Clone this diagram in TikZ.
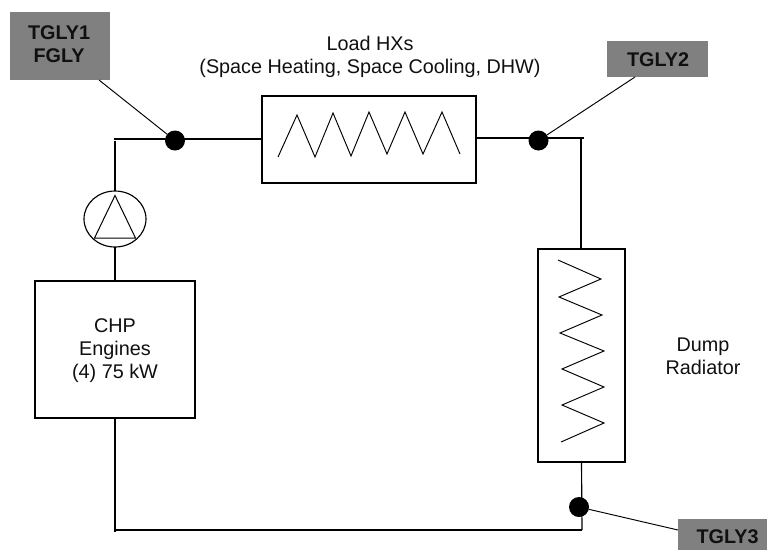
\documentclass[tikz,border=0pt]{standalone}
\usepackage{fontspec}
\setmainfont{Liberation Sans}
\usetikzlibrary{shapes.geometric}
\definecolor{tagfill}{HTML}{808080}
\definecolor{inkc}{HTML}{101010}
\tikzset{
  x=1pt,y=-1pt,
  every node/.style={inner sep=0pt,outer sep=0pt},
  txt/.style={font=\fontsize{19.8}{23}\selectfont,align=center,text=inkc},
  tag/.style={fill=tagfill,font=\fontsize{19.8}{23}\selectfont\bfseries,align=center,text=inkc},
  equip/.style={draw=black,line width=1.15pt,fill=white},
  pipe/.style={draw=black,line width=1.15pt},
  coil/.style={draw=black,line width=0.95pt,line join=miter},
  probe/.style={draw=black,line width=0.95pt},
  sensor/.style={circle,fill=black,minimum size=20pt},
}
\begin{document}
\begin{tikzpicture}
\useasboundingbox (0,0) rectangle (767,550);
% tags
\node[tag,minimum width=100pt,minimum height=68pt] (t1) at (60,46) {};
\node[tag] (t1t) at (59,44) {TGLY1\\FGLY};
\node[tag,minimum width=101pt,minimum height=36pt] (t2) at (657.5,59) {};
\node[tag] (t2t) at (658,60) {TGLY2};
\node[tag,minimum width=89pt,minimum height=31pt] (t3) at (722.5,534.5) {};
\node[tag] (t3t) at (727.5,537) {TGLY3};
% equipment
\node[equip,minimum width=214pt,minimum height=87pt] (load) at (369,139.5) {};
\node[equip,minimum width=87pt,minimum height=213pt] (rad) at (581.5,355.5) {};
\node[equip,minimum width=160pt,minimum height=137pt] (chp) at (115,349.5) {};
\node[txt] (chpt) at (115,351) {CHP\\Engines\\(4) 75 kW};
\node[equip,ellipse,minimum width=62pt,minimum height=56pt] (pump) at (115,219) {};
% labels
\node[txt] (loadl) at (370,57) {Load HXs\\(Space Heating, Space Cooling, DHW)};
\node[txt] (radl) at (703,356.5) {Dump\\Radiator};
% junctions
\coordinate (c1) at (115,139);
\coordinate (c2) at (581,138);
\coordinate (c3) at (582,530);
\coordinate (c4) at (115,532);
\coordinate (c5) at (116,530);
\coordinate (p1) at (175,139);
\coordinate (p2) at (538,138);
\coordinate (tr1) at (99,80);
\coordinate (tr2) at (635,77);
\coordinate (tr3) at (678,530);
% pipes
\draw[pipe] (load.west |- p1) -- (p1) -- (114,139);
\draw[pipe] (c1) ++(0,2) -- (pump.north);
\draw[pipe] (pump.south) -- (pump.south |- chp.north);
\draw[pipe] (chp.south) -- (c4);
\draw[pipe] (c5) -- (c3);
\draw[pipe] (load.east |- p2) -- (p2) -- (584,138);
\draw[pipe] (c2) -- (c2 |- rad.north);
\draw[pipe] (rad.south) -- (c3);
% pump triangle
\draw[pipe,line width=1pt] (115,195.5) -- (94.5,238) -- (135.5,238) -- cycle;
% coils
\draw[coil] (278,157) -- (297,115) -- (315,157) -- (333,113) -- (351,156) -- (369,112) -- (387,154) -- (405,112) -- (423,154) -- (442,112) -- (460,154);
\draw[coil] (558,260) -- (601,279) -- (559,297) -- (602,315) -- (560,333) -- (604,351) -- (562,369) -- (604,387) -- (562,405) -- (604,423) -- (561,442);
% probes
\node[sensor] (s1) at (175,140.5) {};
\node[sensor] (s2) at (538.5,140.5) {};
\node[sensor] (s3) at (579,507) {};
\draw[probe] (tr1) -- (s1);
\draw[probe] (tr2) -- (s2);
\draw[probe] (tr3) -- (s3);
\end{tikzpicture}
\end{document}
